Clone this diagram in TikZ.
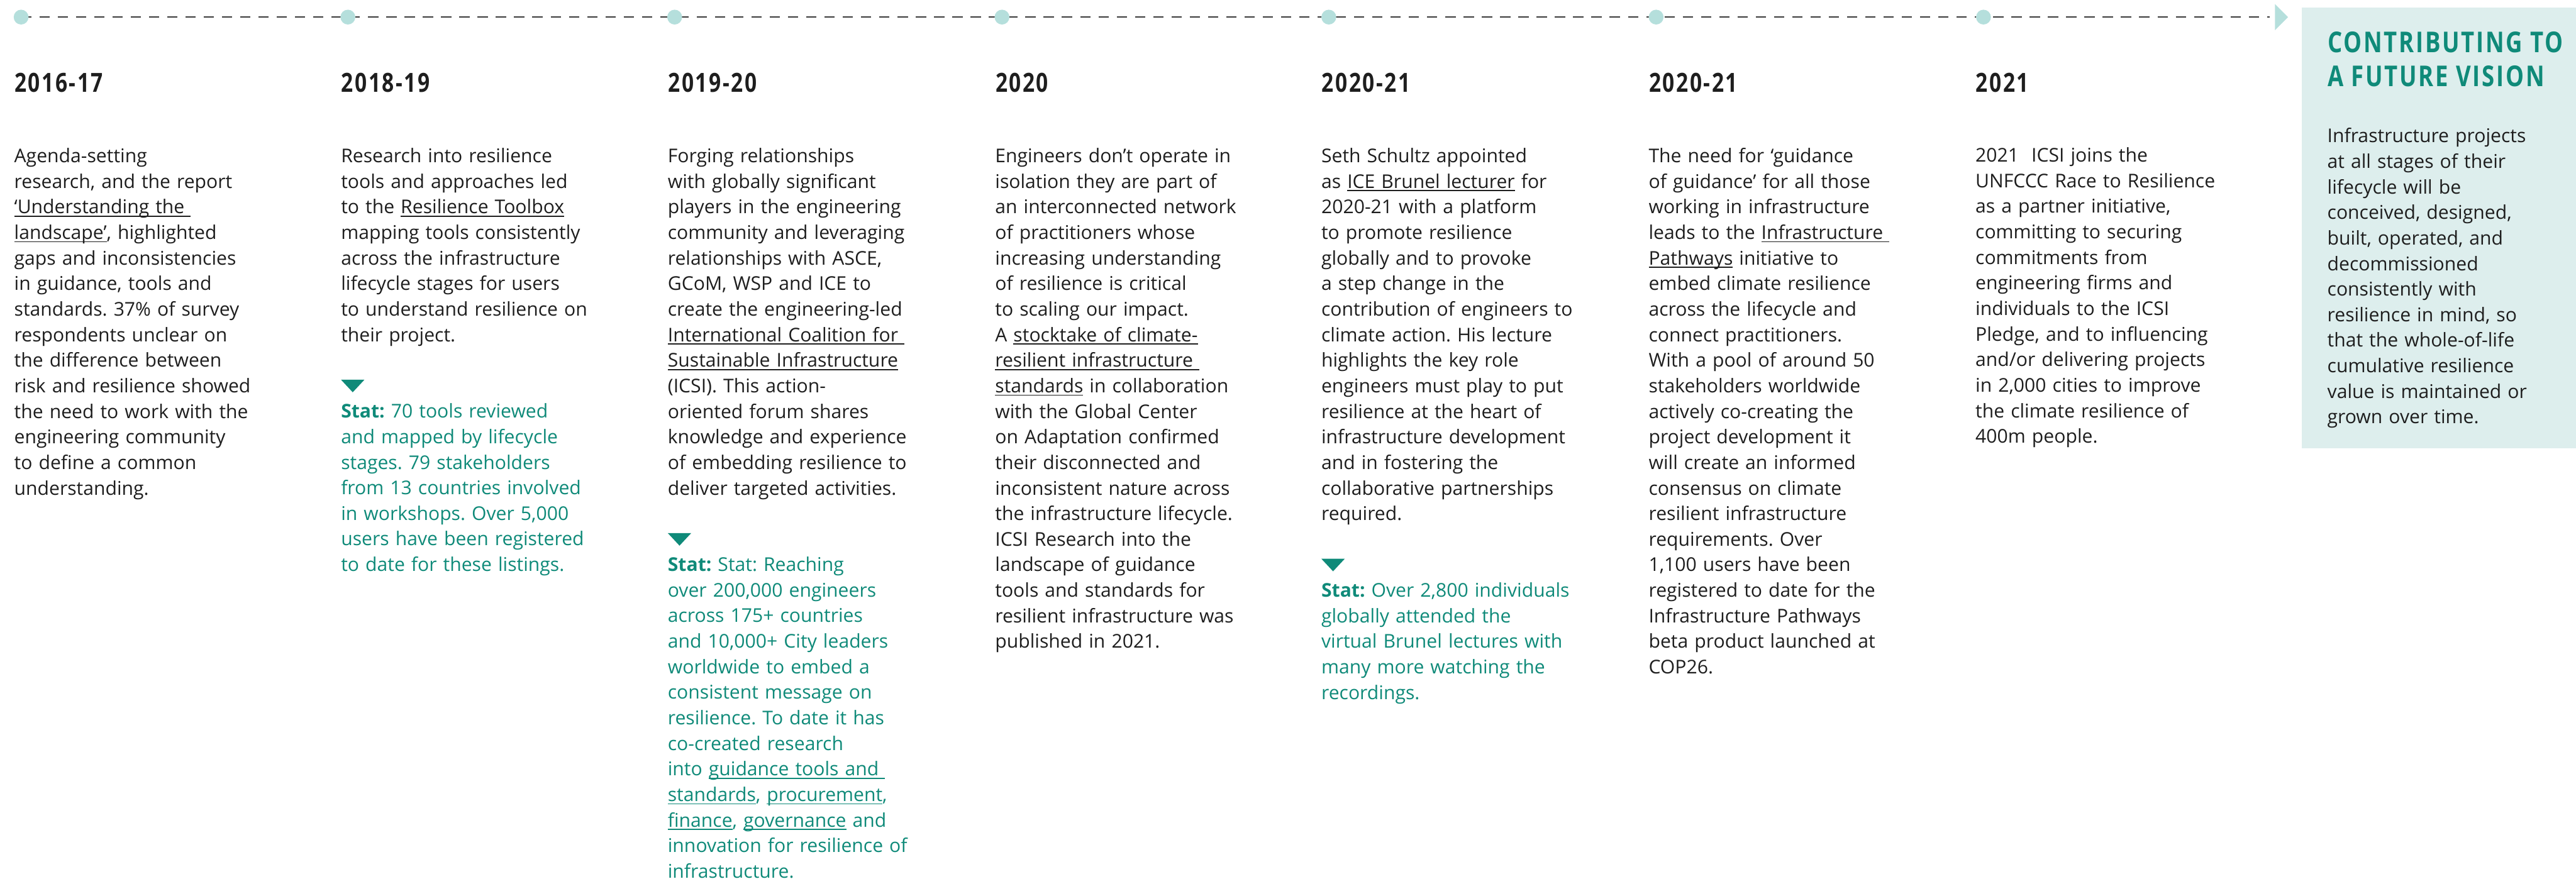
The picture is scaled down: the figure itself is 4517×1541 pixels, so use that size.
\documentclass[tikz,border=0pt]{standalone}
\usepackage{fontspec}
\usetikzlibrary{backgrounds}
\setmainfont{Open Sans}
\newfontfamily\headfont[FakeStretch=0.8,LetterSpace=6]{Open Sans}
\definecolor{inkblack}{HTML}{1E1E1E}
\definecolor{statteal}{HTML}{0F8A79}
\definecolor{dotteal}{HTML}{B5DFDC}
\definecolor{boxteal}{HTML}{DDEEED}
\definecolor{dashgray}{HTML}{3A3A3A}
\frenchspacing
\newsavebox\ulbox
% underline that sits just below the baseline, independent of descenders
\newcommand\ulin[1]{\leavevmode\sbox\ulbox{#1}\rlap{\rule[-0.16em]{\wd\ulbox}{0.055em}}\usebox\ulbox}
\newcommand\bodysize{\fontsize{9.45}{12.75}\selectfont\frenchspacing}
\newcommand\headsize{\fontsize{13.15}{16.5}\selectfont}
\newcommand\visionsize{\fontsize{14.3}{17}\selectfont}

\tikzset{
  body/.style={anchor=base west, inner sep=0pt, outer sep=0pt, text width=5.4cm,
    align=left, font=\bodysize, text=inkblack},
  stattext/.style={body, text=statteal},
  year/.style={anchor=base west, inner sep=0pt, font=\headfont\bfseries\headsize, text=inkblack},
  visionhead/.style={anchor=base west, inner sep=0pt, font=\headfont\bfseries\visionsize, text=statteal},
  dot/.style={circle, fill=dotteal, minimum size=0.26cm, inner sep=0pt},
  timeline/.style={draw=dashgray, line width=0.025cm, dash pattern=on 0.18cm off 0.14cm},
  statmark/.style={fill=statteal},
}

\begin{document}
\begin{tikzpicture}[x=0.01cm, y=-0.01cm]
\useasboundingbox (0,0) rectangle (4517,1541);

% future-vision panel
\fill[boxteal] (4036,13) rectangle (4517,786);

% timeline dots
\node[dot] (d1) at (37,30) {};
\node[dot] (d2) at (610,30) {};
\node[dot] (d3) at (1183,30) {};
\node[dot] (d4) at (1757,30) {};
\node[dot] (d5) at (2330,30) {};
\node[dot] (d6) at (2904,30) {};
\node[dot] (d7) at (3478,30) {};
\coordinate (tip) at (3980,30);
\begin{pgfonlayer}{background}
  \draw[timeline] (d1.center) -- (tip);
\end{pgfonlayer}
\fill[dotteal] (3989,7) -- (4012,30) -- (3989,53) -- cycle;

% year headings
\node[year] (y1) at (25,162) {2016-17};
\node[year] (y2) at (598,162) {2018-19};
\node[year] (y3) at (1171,162) {2019-20};
\node[year] (y4) at (1745,162) {2020};
\node[year] (y5) at (2317,162) {2020-21};
\node[year] (y6) at (2891,162) {2020-21};
\node[year] (y7) at (3464,162) {2021};
\node[visionhead] (v1) at (4081,92) {CONTRIBUTING TO};
\node[visionhead] (v2) at (4081,152) {A FUTURE VISION};

% column texts
\node[body] (t1) at (25,285) {Agenda-setting\\
research, and the report\\
\ulin{‘Understanding the\ }\\
\ulin{landscape’}, highlighted\\
gaps and inconsistencies\\
in guidance, tools and\\
standards. 37\% of survey\\
respondents unclear on\\
the difference between\\
risk and resilience showed\\
the need to work with the\\
engineering community\\
to define a common\\
understanding.};

\node[body] (t2) at (598,285) {Research into resilience\\
tools and approaches led\\
to the \ulin{Resilience Toolbox}\\
mapping tools consistently\\
across the infrastructure\\
lifecycle stages for users\\
to understand resilience on\\
their project.};
\fill[statmark] (598,666) -- (639,666) -- (618.5,688) -- cycle;
\node[stattext] (s2) at (598,733) {\textbf{Stat:} 70 tools reviewed\\
and mapped by lifecycle\\
stages. 79 stakeholders\\
from 13 countries involved\\
in workshops. Over 5,000\\
users have been registered\\
to date for these listings.};

\node[body] (t3) at (1171,285) {Forging relationships\\
with globally significant\\
players in the engineering\\
community and leveraging\\
relationships with ASCE,\\
GCoM, WSP and ICE to\\
create the engineering-led\\
\ulin{International Coalition for\ }\\
\ulin{Sustainable Infrastructure}\\
(ICSI). This action-\\
oriented forum shares\\
knowledge and experience\\
of embedding resilience to\\
deliver targeted activities.};
\fill[statmark] (1171,935) -- (1212,935) -- (1191.5,957) -- cycle;
\node[stattext] (s3) at (1171,1002) {\textbf{Stat:} Stat: Reaching\\
over 200,000 engineers\\
across 175+ countries\\
and 10,000+ City leaders\\
worldwide to embed a\\
consistent message on\\
resilience. To date it has\\
co-created research\\
into \ulin{guidance tools and\ }\\
\ulin{standards}, \ulin{procurement},\\
\ulin{finance}, \ulin{governance} and\\
innovation for resilience of\\
infrastructure.};

\node[body] (t4) at (1745,285) {Engineers don’t operate in\\
isolation they are part of\\
an interconnected network\\
of practitioners whose\\
increasing understanding\\
of resilience is critical\\
to scaling our impact.\\
A \ulin{stocktake of climate-}\\
\ulin{resilient infrastructure\ }\\
\ulin{standards} in collaboration\\
with the Global Center\\
on Adaptation confirmed\\
their disconnected and\\
inconsistent nature across\\
the infrastructure lifecycle.\\
ICSI Research into the\\
landscape of guidance\\
tools and standards for\\
resilient infrastructure was\\
published in 2021.};

\node[body] (t5) at (2317,285) {Seth Schultz appointed\\
as \ulin{ICE Brunel lecturer} for\\
2020-21 with a platform\\
to promote resilience\\
globally and to provoke\\
a step change in the\\
contribution of engineers to\\
climate action. His lecture\\
highlights the key role\\
engineers must play to put\\
resilience at the heart of\\
infrastructure development\\
and in fostering the\\
collaborative partnerships\\
required.};
\fill[statmark] (2317,980) -- (2358,980) -- (2337.5,1002) -- cycle;
\node[stattext] (s5) at (2317,1047) {\textbf{Stat:} Over 2,800 individuals\\
globally attended the\\
virtual Brunel lectures with\\
many more watching the\\
recordings.};

\node[body] (t6) at (2891,285) {The need for ‘guidance\\
of guidance’ for all those\\
working in infrastructure\\
leads to the \ulin{Infrastructure\ }\\
\ulin{Pathways} initiative to\\
embed climate resilience\\
across the lifecycle and\\
connect practitioners.\\
With a pool of around 50\\
stakeholders worldwide\\
actively co-creating the\\
project development it\\
will create an informed\\
consensus on climate\\
resilient infrastructure\\
requirements. Over\\
1,100 users have been\\
registered to date for the\\
Infrastructure Pathways\\
beta product launched at\\
COP26.};

\node[body] (t7) at (3464,284) {2021~~ICSI joins the\\
UNFCCC Race to Resilience\\
as a partner initiative,\\
committing to securing\\
commitments from\\
engineering firms and\\
individuals to the ICSI\\
Pledge, and to influencing\\
and/or delivering projects\\
in 2,000 cities to improve\\
the climate resilience of\\
400m people.};

\node[body, text width=4.1cm] (t8) at (4081,250) {Infrastructure projects\\
at all stages of their\\
lifecycle will be\\
conceived, designed,\\
built, operated, and\\
decommissioned\\
consistently with\\
resilience in mind, so\\
that the whole-of-life\\
cumulative resilience\\
value is maintained or\\
grown over time.};
\end{tikzpicture}
\end{document}
